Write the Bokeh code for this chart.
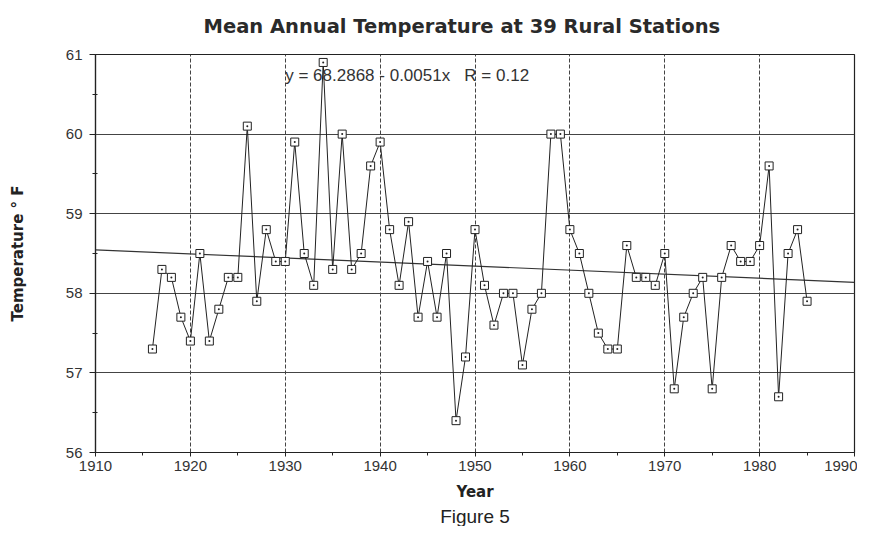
from bokeh.plotting import figure
from bokeh.models import ColumnDataSource, Label, FixedTicker, Range1d, Title
from bokeh.embed import file_html
from bokeh.resources import INLINE

years = list(range(1916, 1986))
temps = [57.3, 58.3, 58.2, 57.7, 57.4, 58.5, 57.4, 57.8, 58.2, 58.2,
         60.1, 57.9, 58.8, 58.4, 58.4, 59.9, 58.5, 58.1, 60.9, 58.3,
         60.0, 58.3, 58.5, 59.6, 59.9, 58.8, 58.1, 58.9, 57.7, 58.4,
         57.7, 58.5, 56.4, 57.2, 58.8, 58.1, 57.6, 58.0, 58.0, 57.1,
         57.8, 58.0, 60.0, 60.0, 58.8, 58.5, 58.0, 57.5, 57.3, 57.3,
         58.6, 58.2, 58.2, 58.1, 58.5, 56.8, 57.7, 58.0, 58.2, 56.8,
         58.2, 58.6, 58.4, 58.4, 58.6, 59.6, 56.7, 58.5, 58.8, 57.9]
x_ticks = [1910, 1920, 1930, 1940, 1950, 1960, 1970, 1980, 1990]
x_minor = [1915, 1925, 1935, 1945, 1955, 1965, 1975, 1985]
y_ticks = [56, 57, 58, 59, 60, 61]
y_minor = [56.5, 57.5, 58.5, 59.5, 60.5]
fit_intercept = 68.2868
fit_slope = -0.0051
fit_r = 0.12
fit_x = [1910, 1990]
fit_y = [fit_intercept + fit_slope * xv for xv in fit_x]

FONT = "Liberation Sans"

p = figure(width=857, height=526, output_backend="svg", toolbar_location=None,
           x_range=Range1d(1910, 1990), y_range=Range1d(56, 61),
           min_border_left=95, min_border_right=3, min_border_top=54,
           min_border_bottom=0,
           background_fill_color="white", border_fill_color="white")

p.title.text = "Mean Annual Temperature at 39 Rural Stations"
p.title.align = "left"
p.title.offset = 108
p.title.text_font = "DejaVu Sans"
p.title.text_font_size = "19.5px"
p.title.text_font_style = "bold"
p.title.text_color = "#2a2a2a"
p.title.vertical_align = "top"
p.title.standoff = 29

p.outline_line_color = "#222222"
p.outline_line_width = 1.2

p.xaxis.ticker = FixedTicker(ticks=x_ticks, minor_ticks=x_minor)
p.yaxis.ticker = FixedTicker(ticks=y_ticks, minor_ticks=y_minor)

for ax in (p.xaxis, p.yaxis):
    ax.axis_line_color = "#222222"
    ax.axis_line_width = 1.2
    ax.major_tick_line_color = "#222222"
    ax.minor_tick_line_color = "#222222"
    ax.major_label_text_font = FONT
    ax.major_label_text_font_size = "15px"
    ax.major_label_text_color = "#333333"
    ax.axis_label_text_font = "DejaVu Sans"
    ax.axis_label_text_font_style = "bold"
    ax.axis_label_text_color = "#222222"

p.xaxis.major_tick_out = 4
p.xaxis.major_tick_in = 0
p.xaxis.minor_tick_out = 3
p.xaxis.minor_tick_in = 0
p.xaxis.major_label_standoff = 4
p.xaxis.axis_label = "Year"
p.xaxis.axis_label_text_font_size = "15px"
p.xaxis.axis_label_standoff = 9

p.yaxis.major_tick_out = 6
p.yaxis.major_tick_in = 0
p.yaxis.minor_tick_out = 3
p.yaxis.minor_tick_in = 2
p.yaxis.major_label_standoff = 7
p.yaxis.axis_label = "Temperature \u00b0 F"
p.yaxis.axis_label_text_font_size = "15px"
p.yaxis.axis_label_standoff = 36

p.xgrid.grid_line_color = "#444444"
p.xgrid.grid_line_dash = "4 2"
p.xgrid.grid_line_width = 1
p.ygrid.grid_line_color = "#444444"
p.ygrid.grid_line_width = 1

p.add_layout(Title(text="Figure 5", align="center", text_font=FONT,
                   text_font_size="19px", text_font_style="normal",
                   text_color="#222222", standoff=0, offset=0), "below")

p.line(fit_x, fit_y, line_color="#333333", line_width=1.2)

src = ColumnDataSource(dict(year=years, temp=temps))
p.line("year", "temp", source=src, line_color="#222222", line_width=1)
p.scatter("year", "temp", source=src, marker="square_dot", size=8,
          fill_color="white", line_color="#222222", line_width=1)

eq = "y = %.4f - %.4fx\u00a0\u00a0\u00a0R = %.2f" % (fit_intercept, abs(fit_slope), fit_r)
p.add_layout(Label(x=1930, y=60.74, text=eq, text_font=FONT, text_font_size="17px",
                   text_color="#333333", text_baseline="middle", text_align="left",
                   background_fill_color=None))

open("out.html", "w").write(file_html(p, INLINE))
